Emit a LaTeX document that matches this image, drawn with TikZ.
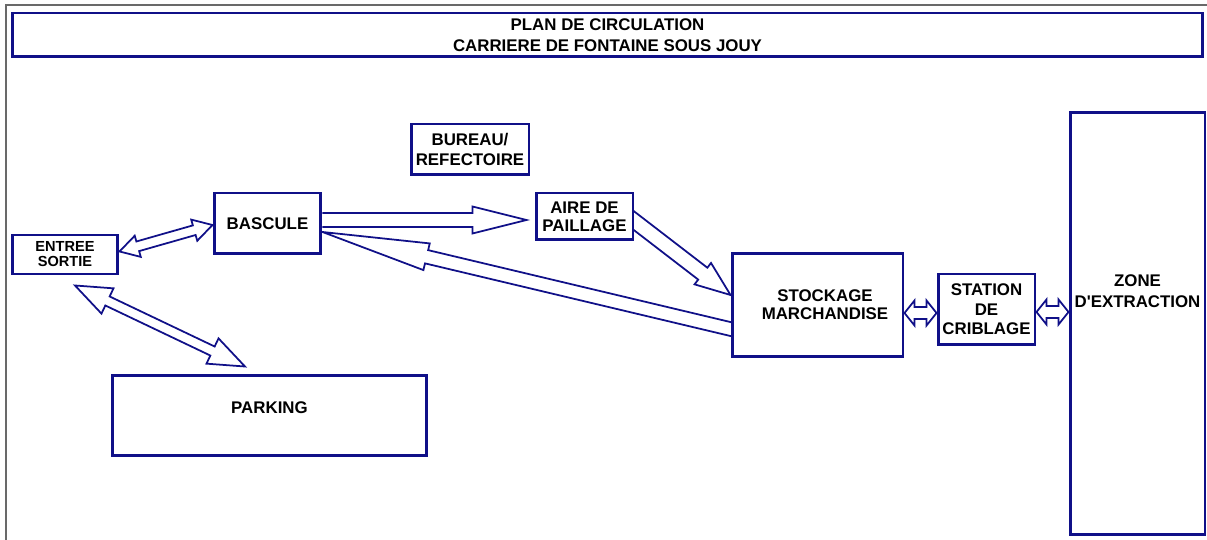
\documentclass[tikz,border=0pt]{standalone}
\usepackage{fontspec}
\setmainfont{Liberation Sans}
\usetikzlibrary{calc,backgrounds}
\definecolor{plannavy}{RGB}{16,16,136}
\definecolor{framegray}{RGB}{105,105,105}

\tikzset{
  planbox/.style={draw=plannavy, line width=1.7pt, fill=white, inner sep=0pt, align=center,
    text=black, font=\bfseries\fontsize{9.6}{11.9}\selectfont},
  boxtext/.style={inner sep=0pt, align=center, text=black, font=\bfseries\fontsize{9.6}{11.9}\selectfont},
  flowarrow/.style={draw=plannavy, line width=1pt, fill=white},
}

% block arrow: #1 start, #2 tip, #3 shaft half width, #4 head half width, #5 head length (px)
\newcommand{\onewayarrow}[5]{%
  \coordinate (hb) at ($(#2)!#5*0.02cm!(#1)$);
  \draw[flowarrow] ($(#1)!#3*0.02cm!90:(#2)$) -- ($(hb)!#3*0.02cm!-90:(#1)$)
    -- ($(hb)!#4*0.02cm!-90:(#1)$) -- (#2) -- ($(hb)!#4*0.02cm!90:(#1)$)
    -- ($(hb)!#3*0.02cm!90:(#1)$) -- ($(#1)!#3*0.02cm!-90:(#2)$);
}
% block arrow with a head at both ends
\newcommand{\twowayarrow}[5]{%
  \coordinate (ha) at ($(#1)!#5*0.02cm!(#2)$);
  \coordinate (hb) at ($(#2)!#5*0.02cm!(#1)$);
  \draw[flowarrow] (#1) -- ($(ha)!#4*0.02cm!90:(#2)$) -- ($(ha)!#3*0.02cm!90:(#2)$)
    -- ($(hb)!#3*0.02cm!-90:(#1)$) -- ($(hb)!#4*0.02cm!-90:(#1)$) -- (#2)
    -- ($(hb)!#4*0.02cm!90:(#1)$) -- ($(hb)!#3*0.02cm!90:(#1)$)
    -- ($(ha)!#3*0.02cm!-90:(#2)$) -- ($(ha)!#4*0.02cm!-90:(#2)$) -- cycle;
}

\begin{document}
\begin{tikzpicture}[x=0.02cm, y=-0.02cm]
  \useasboundingbox (0,0) rectangle (1207,540);
  % sheet frame
  \draw[framegray, line width=1.1pt] (6,560) -- (6,5) -- (1220,5);

  % title
  \node[planbox, minimum width=23.82cm, minimum height=0.88cm] (title) at (607.5,35)
    {PLAN DE CIRCULATION\\CARRIERE DE FONTAINE SOUS JOUY};

  % areas of the site
  \node[planbox, minimum width=2.12cm, minimum height=0.78cm,
    font=\bfseries\fontsize{8.3}{8.6}\selectfont] (entree) at (65,254.5) {ENTREE\\SORTIE};
  \node[planbox, minimum width=2.14cm, minimum height=1.22cm] (bascule) at (267.5,223.5) {BASCULE};
  \node[planbox, minimum width=2.36cm, minimum height=1.02cm] (bureau) at (470,149.5) {BUREAU/\\REFECTOIRE};
  \node[planbox, minimum width=1.94cm, minimum height=0.94cm,
    font=\bfseries\fontsize{9.6}{10.2}\selectfont] (aire) at (584.5,216.5) {AIRE DE\\PAILLAGE};
  \node[planbox, minimum width=3.42cm, minimum height=2.08cm,
    font=\bfseries\fontsize{9.6}{10.2}\selectfont] (stockage) at (817.5,305) {\hspace{0.3cm}STOCKAGE\\\hspace{0.3cm}MARCHANDISE};
  \node[planbox, minimum width=1.94cm, minimum height=1.42cm,
    font=\bfseries\fontsize{9.6}{11}\selectfont] (station) at (986.5,309.5) {STATION\\DE\\CRIBLAGE};
  \node[planbox, minimum width=2.7cm, minimum height=8.46cm,
    label={[boxtext, yshift=0.64cm]center:{ZONE\\D\textquotesingle EXTRACTION}}] (zone) at (1137.5,323.5) {};
  \node[planbox, minimum width=6.3cm, minimum height=1.62cm,
    label={[boxtext, yshift=0.15cm]center:PARKING}] (parking) at (269.5,415.5) {};

  % traffic flows
  \begin{scope}[on background layer]
    \coordinate (entreeB) at ([shift={(0,-3)}]entree.east);
    \coordinate (basculeE) at ([shift={(0,1.5)}]bascule.west);
    \coordinate (entreeP) at ([shift={(10,10)}]entree.south);
    \coordinate (parkingE) at ([shift={(-24.5,-7)}]parking.north);
    \coordinate (basculeA) at ([shift={(0,-3.5)}]bascule.east);
    \coordinate (aireB) at ([shift={(-8,3.5)}]aire.west);
    \coordinate (aireS) at ([shift={(-6,0)}]aire.east);
    \coordinate (stockA) at ([shift={(0,-10)}]stockage.west);
    \coordinate (stockB) at ([shift={(4,25)}]stockage.west);
    \coordinate (basculeS) at ([shift={(0,8.5)}]bascule.east);
    \coordinate (stockE) at ([shift={(0,8)}]stockage.east);
    \coordinate (stationW) at ([shift={(0,3.5)}]station.west);
    \coordinate (stationE) at ([shift={(0,2.5)}]station.east);
    \coordinate (zoneW) at ([shift={(0,-11.5)}]zone.west);

    \twowayarrow{entreeB}{basculeE}{5}{11}{19}
    \twowayarrow{entreeP}{parkingE}{5}{14}{36}
    \onewayarrow{basculeA}{aireB}{7}{13.5}{54}
    \onewayarrow{aireS}{stockA}{7.5}{13.5}{35}
    \onewayarrow{stockB}{basculeS}{6.8}{13.7}{107}
    \twowayarrow{stockE}{stationW}{6}{12.5}{10}
    \twowayarrow{stationE}{zoneW}{6}{12.5}{10}
  \end{scope}
\end{tikzpicture}
\end{document}
